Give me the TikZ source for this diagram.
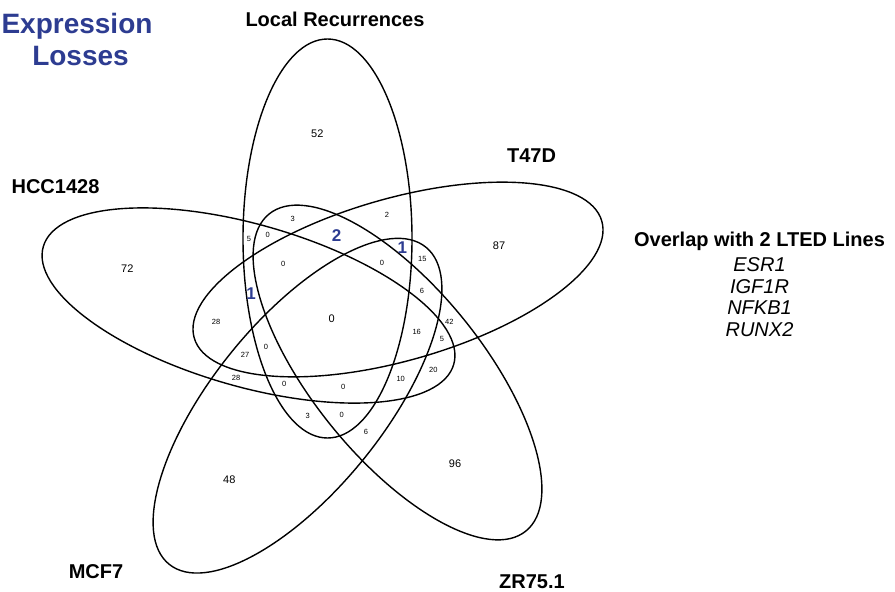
\documentclass[tikz,border=0pt]{standalone}
\usepackage{fontspec}
\setmainfont{Liberation Sans}
\usetikzlibrary{shapes.geometric}
\definecolor{vblue}{RGB}{45,60,145}
\begin{document}
\begin{tikzpicture}[x=1pt,y=-1pt,
  vset/.style={draw=black, line width=1.4pt, ellipse, inner sep=0pt, outer sep=0pt},
  lbl/.style={font=\fontsize{20}{24}\selectfont\bfseries, anchor=base, inner sep=0pt},
  ttl/.style={font=\fontsize{28}{32}\selectfont\bfseries, text=vblue, anchor=base, inner sep=0pt},
  big/.style={font=\fontsize{11}{13}\selectfont, inner sep=0pt},
  sm/.style={font=\fontsize{7.5}{9}\selectfont, inner sep=0pt},
  bl/.style={font=\fontsize{17}{20}\selectfont\bfseries, text=vblue, inner sep=0pt},
  gene/.style={font=\fontsize{20}{24}\selectfont\itshape, anchor=base, inner sep=0pt}]
\useasboundingbox (0,0) rectangle (895,592);
% sets
\node[vset, minimum width=169pt, minimum height=399pt] (lr) at (327.5,238.5) {};
\node[vset, minimum width=424pt, minimum height=162pt, rotate=16] (t47d) at (398,279.5) {};
\node[vset, minimum width=427pt, minimum height=162pt, rotate=-16] (hcc) at (248.5,305.5) {};
\node[vset, minimum width=408pt, minimum height=170pt, rotate=51] (mcf) at (297.5,405.7) {};
\node[vset, minimum width=408pt, minimum height=170pt, rotate=-51] (zr) at (397.5,372.5) {};
% titles
\node[ttl] (t1) at (77,33) {Expression};
\node[ttl] (t2) at (80.5,65) {Losses};
\node[lbl] (llr) at (335,26) {Local Recurrences};
\node[lbl] (lt47d) at (531.5,162) {T47D};
\node[lbl] (lhcc) at (55.5,193) {HCC1428};
\node[lbl] (lmcf) at (96,578) {MCF7};
\node[lbl] (lzr) at (532,588) {ZR75.1};
% overlap legend
\node[lbl] (ov) at (759.5,246.7) {Overlap with 2 LTED Lines};
\node[gene] (g1) at (759.5,271.7) {ESR1};
\node[gene] (g2) at (759.5,293.3) {IGF1R};
\node[gene] (g3) at (759.5,314.8) {NFKB1};
\node[gene] (g4) at (759.5,336.5) {RUNX2};
% big region counts
\node[big] (n52) at (317.3,134) {52};
\node[big] (n72) at (127.3,269) {72};
\node[big] (n87) at (499,246) {87};
\node[big] (n48) at (229.3,480) {48};
\node[big] (n96) at (455,464) {96};
\node[big] (n0c) at (331.7,318.3) {0};
% blue counts
\node[bl] (b2) at (336.7,235.7) {2};
\node[bl] (b1a) at (402.3,247.7) {1};
\node[bl] (b1b) at (251,294) {1};
% small counts
\node[sm] (s1) at (292.7,219.3) {3};
\node[sm] (s2) at (387,215) {2};
\node[sm] (s3) at (249,239.3) {5};
\node[sm] (s4) at (267.7,235) {0};
\node[sm] (s5) at (422.3,259.3) {15};
\node[sm] (s6) at (283.3,264.3) {0};
\node[sm] (s7) at (382,262.7) {0};
\node[sm] (s8) at (422,291) {6};
\node[sm] (s9) at (449.3,322.3) {42};
\node[sm] (s10) at (416.7,332.3) {16};
\node[sm] (s11) at (442,339.3) {5};
\node[sm] (s12) at (266,346.7) {0};
\node[sm] (s13) at (245,355) {27};
\node[sm] (s14) at (433.3,370) {20};
\node[sm] (s15) at (236,378.3) {28};
\node[sm] (s16) at (400.7,379.3) {10};
\node[sm] (s17) at (284.3,384) {0};
\node[sm] (s18) at (343.3,387.3) {0};
\node[sm] (s19) at (307.7,416.3) {3};
\node[sm] (s20) at (341.7,415.3) {0};
\node[sm] (s21) at (366,432.3) {6};
\node[sm] (s22) at (216,322.3) {28};
\end{tikzpicture}
\end{document}
